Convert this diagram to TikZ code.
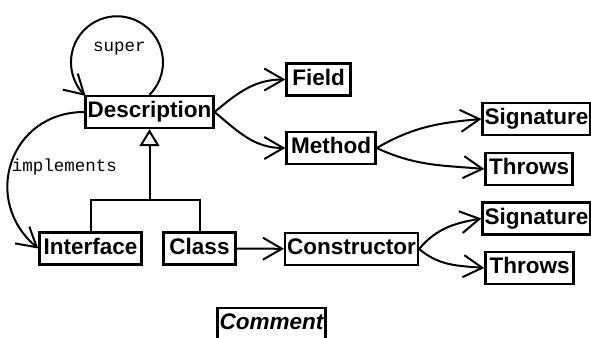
\documentclass[tikz,border=0pt]{standalone}
\usepackage{fontspec}
\setsansfont{Liberation Sans}
\setmonofont{Liberation Mono}
\usepackage{tikz}
\usetikzlibrary{arrows.meta}
\tikzstyle{line} = [draw, line width=2pt, -{Straight Barb[length=19pt,width=22pt]}]
\tikzstyle{isa} = [draw, line width=2pt, -{Triangle[open,length=17pt,width=20pt]}]

\begin{document}
\begin{tikzpicture}[x=1pt, y=1pt,
		box/.style={draw, line width=2.4pt, inner xsep=2pt, inner ysep=0pt,
		minimum height=32pt, text height=16.4pt, text depth=4.7pt,
		font=\sffamily\bfseries\fontsize{22.5}{26}\selectfont},
		lbl/.style={inner sep=0pt, font=\ttfamily\fontsize{17.5}{20}\selectfont}]
		\clip (0,0) rectangle (591,-337);
		\node [box, minimum width=126] (Desc) at (149.5,-112) {Description};
		\node [box, minimum width=64] (Field) at (318.5,-79.5) {Field};
		\node [box, minimum width=89] (Method) at (331,-148) {Method};
		\node [box, minimum width=106] (Sig1) at (536.5,-119) {Signature};
		\node [box, minimum width=87] (Throws1) at (529,-169) {Throws};
		\node [box, minimum width=102] (Iface) at (90.5,-248.5) {Interface};
		\node [box, minimum width=72] (Class) at (199.5,-248.5) {Class};
		\node [box, minimum width=132] (Ctor) at (351.5,-249) {Constructor};
		\node [box, minimum width=106] (Sig2) at (536.5,-218.5) {Signature};
		\node [box, minimum width=88] (Throws2) at (529.5,-268) {Throws};
		\node [box, minimum width=108, font=\sffamily\bfseries\itshape\fontsize{22.5}{26}\selectfont]
			(Comment) at (271.5,-324) {Comment};
		\node [lbl] (super) at (119.5,-49) {super};
		\node [lbl] (impl) at (64.5,-167) {implements};
		\coordinate (fork) at (149.5,-200);
		%% Inheritance
		\draw [line width=2pt] (Iface.north) |- (fork) -| (Class.north);
		\path [isa] (fork) -- (Desc.south);
		%% Associations
		\path [line] (Desc.north) arc [start angle=-45, end angle=227, radius=46];
		\path [line] (Desc.west) to [out=180, in=140, looseness=1.33] (Iface.west);
		\path [line] (Desc.east) to [out=40, in=180] (Field.west);
		\path [line] (Desc.east) to [out=-40, in=180] (Method.west);
		\path [line] (Method.east) to [out=30, in=185] (Sig1.west);
		\path [line] (Method.east) to [out=-25, in=175] (Throws1.west);
		\path [line] (Class) -- (Ctor);
		\path [line] (Ctor.east) to [out=50, in=190] (Sig2.west);
		\path [line] (Ctor.east) to [out=-40, in=175] (Throws2.west);
	\end{tikzpicture}
\end{document}
